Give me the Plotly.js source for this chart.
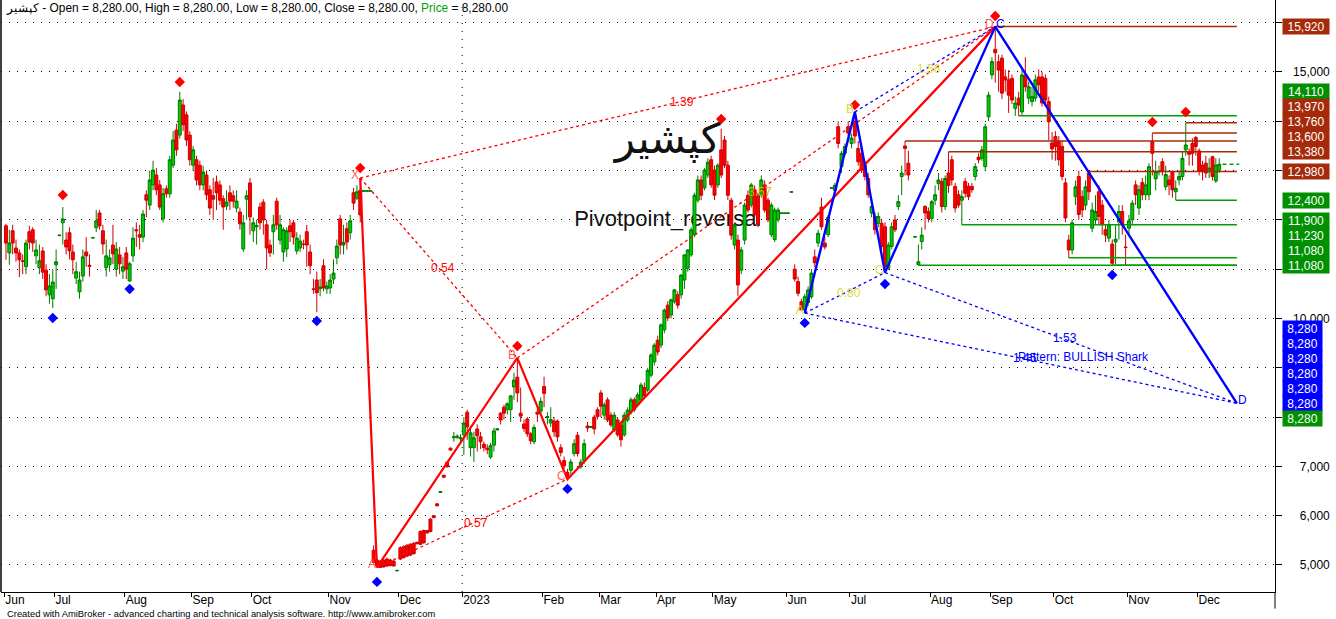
<!DOCTYPE html>
<html><head><meta charset="utf-8">
<script src="https://cdn.plot.ly/plotly-3.0.1.min.js"></script>
<style>html,body{margin:0;padding:0;background:#fff;}#chart{width:1336px;height:619px;}</style>
</head><body><div id="chart"></div>
<script>
// ---------- DATA ----------
const openP = [
11880,11330,11780,11430,11330,11170,11050,11760,11800,11270,
11030,11370,10980,10480,10400,11090,11680,11940,11590,11740,
11350,10820,10540,10860,11350,11080,11630,11840,12140,11780,
11030,11090,11490,11000,11290,10960,11330,10760,11270,11800,
11700,11650,12510,12300,12710,12910,12710,12020,12630,12530,
13110,13820,13720,14330,14130,13720,13110,13220,13110,12710,
12910,12610,12490,12770,12710,12430,12280,12550,12490,12240,
12160,11410,12420,12750,11780,11860,12260,12360,11900,11490,
11760,12380,11590,11350,11410,11880,11940,11370,11430,11510,
11760,11350,10600,10780,10600,11070,10600,10620,10800,11230,
12020,11490,11820,11740,12550,12440,12600,12580,12580,12580,
5300,5100,5080,5100,5120,5100,5080,4880,5350,5370,
5400,5420,5440,5460,5680,5700,5700,5930,6000,6240,
6470,6820,7080,7370,7580,7590,7560,7640,8100,7380,
7380,7760,7600,7450,7370,7190,7430,7740,8080,8200,
8150,8150,8610,8810,8080,7860,7960,7660,7500,8100,
8120,8620,7990,7880,7920,7920,7380,7120,6880,6920,
7260,7630,6990,7120,7820,7790,8000,8150,8490,8040,
8350,8040,7740,7940,7840,7640,7940,8100,8350,8250,
8350,8600,8550,8850,9120,9560,9460,9770,10270,10070,
10340,10480,10480,10780,11020,11290,11700,12400,12810,12650,
12910,13220,13010,12710,13420,13620,13110,12400,11490,11590,
10980,11590,12500,12300,12610,12500,12500,12710,12400,11700,
11600,12000,12130,12130,12130,12560,11000,10750,10340,10170,
10320,10440,11250,11530,12260,11530,11700,12640,12600,13890,
13080,13350,13890,13550,14000,13450,13350,13110,12840,12140,
12070,11930,11930,11860,11020,11460,12000,12270,12880,13500,
13150,null,11650,11090,11560,12270,12170,12030,12400,12740,
12780,12270,12950,13220,12680,12510,12400,12780,12680,12680,
12880,13270,13250,13080,14090,14940,15460,15210,15280,14900,
14840,14870,14260,14470,14190,14940,14470,14400,14470,14900,
14900,14870,14400,13560,13690,13590,13490,12750,11590,11390,
12470,12880,12470,12300,12950,11830,12000,12570,12300,11800,
11630,11510,11550,11960,12170,11450,11830,12000,12710,12240,
12760,12510,12510,13590,12830,12970,13180,12670,12810,12970,
12570,12810,12880,13420,13370,13550,13670,13400,13110,13150,
12980,13280,12790,13010];
const highP = [
11920,11800,11900,11600,11400,11300,11600,11880,11850,11600,
11500,11450,11100,10900,11000,11400,11690,12260,11750,11850,
11500,11150,10950,11400,11650,11300,11640,12200,12200,11900,
11600,11400,11900,11550,11450,11250,11450,11150,11850,11950,
11900,12200,12600,13000,13200,13050,12810,12650,12700,13300,
13800,13950,14600,14450,14200,13800,13500,13300,13200,13100,
13000,12700,12850,12900,12800,12500,12600,12700,12600,12600,
12250,12100,12600,12850,12050,12000,12350,12420,12000,11600,
12100,12450,12100,11850,11850,12000,12000,11750,11700,11600,
11900,11500,10800,10950,10800,11200,10750,10900,11200,11600,
12100,11900,11950,12100,12650,12700,12850,12590,12590,12590,
5400,5150,5100,5120,5150,5130,5100,4890,5380,5400,
5420,5440,5460,5470,5700,5720,5710,5950,6010,6250,
6500,6830,7100,7380,7700,7650,7650,8000,8150,7780,
7700,7850,7700,7500,7450,7480,7780,7770,8100,8250,
8300,8450,8900,9200,8600,7950,8000,7700,7850,8200,
8400,8820,8100,8200,8000,7950,7450,7200,6950,7150,
7550,7700,7150,7550,7900,7810,8050,8200,8550,8300,
8400,8100,8100,8000,7900,8100,8200,8400,8400,8500,
8700,8700,9000,9300,9500,9650,9900,10200,10350,10400,
10600,10550,10900,11300,11400,11850,12550,12900,12900,13050,
13250,13300,13100,13150,13850,13700,13200,12450,11950,11700,
11450,12350,12600,12750,12700,12550,12900,12800,12450,12350,
12250,12250,12140,12140,12140,12570,11100,10850,10400,10500,
10650,11000,11400,11800,12450,11650,12100,12650,12750,14000,
13400,13550,14000,13750,14190,13600,13450,13200,12950,12400,
12150,12150,12000,11950,11550,11950,12100,12500,13100,13600,
13400,null,11660,11500,11850,12300,12250,12400,12700,12950,
12850,12900,13380,13300,12750,12600,12600,12850,12750,12750,
13150,13350,13500,13950,14600,15300,15920,15350,15350,15050,
15040,14950,14500,14600,15050,15300,14800,14700,14950,15050,
15000,14950,14500,13780,13800,13700,13600,12850,11700,12000,
12800,13000,12600,12800,12980,12350,12500,12700,12400,11900,
12000,11600,11900,12300,12300,11700,12100,12400,12800,12700,
12850,12900,13150,13760,13200,13100,13250,13100,12900,13000,
12800,13000,13400,13970,13450,13650,13700,13450,13200,13300,
13250,13300,13250,13250];
const lowP = [
11190,11090,11300,11150,10840,10900,10900,11400,11350,11100,
10900,10800,10450,10300,10210,10600,11680,11500,11300,11200,
10900,10700,10400,10750,11050,10850,11630,11750,11800,11300,
10850,10950,11100,10850,10900,10800,10800,10750,11150,11450,
11400,11550,12050,12200,12600,12500,12200,11950,12450,12450,
13050,13300,13650,13800,13500,13100,13000,12700,12600,12600,
12400,12100,12000,12200,12300,11800,12200,12200,12250,12150,
11800,11350,12000,11700,11550,11500,11800,11700,11000,11250,
11300,11800,11500,11150,11250,11550,11500,11300,11350,11400,
11050,10900,10500,10130,10450,10550,10500,10500,10700,11100,
11300,11300,11400,11600,12200,12400,11950,12580,12580,12580,
5000,4950,4940,4950,4960,4970,4970,4880,5100,5130,
5160,5180,5210,5420,5400,5430,5640,5660,5950,6190,
6460,6770,6980,7320,7500,7550,7500,7230,7540,7200,
7090,7300,7350,7300,7250,7150,7300,7730,7850,7950,
8050,7900,8350,8300,7900,7700,7600,7450,7450,7900,
8050,8200,7850,7800,7600,7500,7200,6950,6740,6850,
7200,7200,6950,7050,7700,7790,7650,7950,8000,7950,
7900,7800,7700,7600,7400,7600,7900,8050,8100,8200,
8300,8400,8500,8800,9050,9250,9400,9700,9950,10000,
10300,10200,10400,10600,10950,11250,11650,12350,12400,12600,
12850,12650,12400,12650,12850,13050,12400,11600,11400,10450,
10900,11500,12150,12250,12050,11850,12450,12150,11950,11650,
11550,11950,12130,12130,12130,12560,10750,10450,10150,10110,
10250,10400,11050,11450,11800,11400,11650,12640,12550,13450,
12950,13300,13700,13450,13550,13100,12950,12800,12450,12050,
11700,11850,11400,10930,10980,11400,11750,12200,12500,12900,
12800,null,11650,11080,11400,11800,11950,11950,12300,12600,
12150,12200,12550,12700,12150,12250,11900,12450,12400,12550,
12800,13150,13200,13000,14000,14850,14780,14600,14450,14600,
14170,14350,14110,14110,14110,14600,14350,14300,14400,14600,
14300,14300,13620,13220,13200,13100,12800,11950,11230,11300,
12300,12000,12050,12200,12400,11750,11900,11900,11700,11550,
11550,11080,11100,11600,11700,11080,11700,11900,12300,12100,
12400,12400,12400,12900,12600,12900,12900,12600,12500,12450,
12400,12700,12800,13300,13100,13100,13300,12900,12800,12850,
12850,12800,12750,12950];
const closeP = [
11530,11530,11530,11330,11190,11160,11530,11550,11530,11390,
11170,10940,10580,10660,10740,11150,11690,12020,11450,11370,
11190,10950,10780,11250,11270,11060,11640,11980,11880,11510,
11270,11230,11310,11410,11110,11050,11000,11110,11630,11780,
11650,12120,12400,12810,13010,12610,12260,12530,12530,13220,
13620,13420,14430,13930,13620,13220,13420,12810,12710,12970,
12510,12240,12420,12550,12400,12260,12360,12380,12380,12380,
11920,11940,12490,12060,11940,11880,11940,12000,11430,11330,
11900,11900,11900,11800,11780,11760,11650,11630,11570,11500,
11490,11070,10590,10520,10640,10620,10660,10780,10920,11470,
11490,11540,11550,11980,12340,12570,12100,12590,12590,12590,
5050,4980,4950,4960,4980,4990,4980,4890,5120,5150,
5180,5200,5230,5430,5420,5450,5650,5680,5960,6200,
6490,6780,6990,7330,7600,7610,7580,7880,7800,7680,
7580,7620,7500,7380,7340,7420,7720,7760,7940,8080,
8270,8430,8750,8490,8020,7770,7660,7520,7790,8060,
8320,8480,8010,7950,7700,7600,7280,7010,6800,7090,
7460,7260,7090,7460,7780,7810,7760,8010,8220,8250,
7940,7840,8040,7640,7540,8040,8140,8350,8150,8450,
8650,8430,8950,9260,9460,9320,9870,10170,10010,10380,
10580,10270,10880,11290,11390,11800,12500,12810,12500,13010,
13170,12710,12500,13110,12910,13110,12500,11690,11900,10680,
11390,12300,12200,12710,12100,11900,12810,12200,12000,12300,
12200,12200,12140,12140,12140,12570,10800,10510,10170,10440,
10580,10920,11130,11730,11860,11450,12050,12650,12700,13550,
13350,13490,13760,13660,13700,13180,13010,12880,12510,12270,
11800,12070,11460,11050,11490,11860,11800,12370,12950,13450,
12910,null,11660,11150,11690,12140,12030,12370,12510,12810,
12270,12840,12700,12810,12240,12300,12470,12540,12470,12610,
13080,13220,13420,13890,14530,15210,15390,15040,14570,14840,
14530,14430,14370,14330,14940,14700,14700,14500,14840,14740,
14370,14430,13990,13440,13490,13220,12880,12040,11390,11940,
12670,12110,12200,12670,12570,12200,12170,12070,11900,11690,
11900,11120,11610,12170,11900,11440,11980,12340,12510,12610,
12510,12710,13080,13350,12980,12990,12980,12920,12710,12610,
12640,12880,13250,13520,13330,13350,13490,12990,12980,12950,
13050,12880,13110,13130];

const monthLabels = ['Jun','Jul','Aug','Sep','Oct','Nov','Dec','2023','Feb','Mar','Apr','May','Jun','Jul','Aug','Sep','Oct','Nov','Dec'];
const monthStartBar = [0,15,36,56,74,97,118,137,161,178,195,212,234,253,277,295,314,336,357];
const priceTicks = [5000,6000,7000,8000,9000,10000,11000,12000,13000,14000,15000,16000];
const priceTicksCovered = [8000,9000,11000,12000,13000,14000,16000];

const pivotHighBar = [17,52,106,153,214,254,296,343,353];
const pivotHighMark = [12506,14797,13053,9443,14047,14331,16136,13986,14189];
const pivotLowBar = [14,37,93,111,168,239,263,331];
const pivotLowMark = [10011,10599,9950,4657,6543,9910,10700,10883];

const xabcdBar = [106,111,153,168,296];
const xabcdPrice = [12850,4950,9200,6740,15920];
const xabcdNames = ['X','A','B','C','D'];
const xabcdRatioText = ['0.54','0.57','3.57','1.39'];

const sharkBar = [239,254,263,296,368.3];
const sharkPrice = [10110,14190,10930,15920,8280];
const sharkRatioText = ['0.80','1.56','1.53','1.45'];
const sharkName = 'Pattern: BULLISH Shark';

const levelPrice = [15920,14110,13970,13760,13600,13380,12980,12400,11900,11230,11080,11080];
const levelStartBar = [296,303,353,343,269,282,324,350,286,318,273,331];
const levelSide = ['r','g','r','r','r','r','r','g','g','g','g','g'];
const projectedD = [8280,8280,8280,8280,8280,8280];
const lastPrice = 8280;
const extLine = {bar:[364,369], price:[13130,13130]};

const symbolName = 'کپشیر';
const systemName = 'Pivotpoint_reversal';

// ---------- GEOMETRY ----------
const Y0 = 4452, Y1 = 16460, XMIN = -1.49, XMAX = 379.7, PLOT_H = 592;
const RED = '#ff0000', BLUE = '#0000ff', BROWN = '#a52a0a', GREEN = '#009000', YEL = '#dcdc3c';
const F = 'Liberation Sans, Arial, sans-serif';
const FS = '\u2007';

const barIdx = closeP.map((_, i) => i);

function segs(bars, prices, pairs){
  const x = [], y = [];
  pairs.forEach(([a,b]) => { x.push(bars[a], bars[b], null); y.push(prices[a], prices[b], null); });
  return {x, y};
}
const ratioPairs = [[0,2],[1,3],[2,4],[0,4]];

const traces = [];
traces.push({type:'candlestick', x:barIdx, open:openP, high:highP, low:lowP, close:closeP,
  increasing:{line:{color:'#007a00', width:1}, fillcolor:'#00cc00'},
  decreasing:{line:{color:'#d00000', width:1}, fillcolor:'#ff0000'},
  whiskerwidth:0, hoverinfo:'skip', showlegend:false});

levelPrice.forEach((p, k) => {
  traces.push({type:'scatter', mode:'lines', x:[levelStartBar[k], sharkBar[4]], y:[p, p],
    line:{color: levelSide[k]==='r' ? BROWN : '#00a000', width:1.5}, hoverinfo:'skip', showlegend:false});
});
traces.push({type:'scatter', mode:'lines', x:extLine.bar, y:extLine.price,
  line:{color:'#00a000', width:1.5, dash:'4px,3px'}, hoverinfo:'skip', showlegend:false});

const rd = segs(xabcdBar, xabcdPrice, ratioPairs);
traces.push({type:'scatter', mode:'lines', x:rd.x, y:rd.y, line:{color:RED, width:1.3, dash:'3px,3px'}, hoverinfo:'skip', showlegend:false});
const bd = segs(sharkBar, sharkPrice, ratioPairs);
traces.push({type:'scatter', mode:'lines', x:bd.x, y:bd.y, line:{color:BLUE, width:1.3, dash:'3px,3px'}, hoverinfo:'skip', showlegend:false});

traces.push({type:'scatter', mode:'lines', x:xabcdBar, y:xabcdPrice, line:{color:RED, width:2.2}, hoverinfo:'skip', showlegend:false});
traces.push({type:'scatter', mode:'lines', x:sharkBar, y:sharkPrice, line:{color:BLUE, width:2.4}, hoverinfo:'skip', showlegend:false});

traces.push({type:'scatter', mode:'markers', x:pivotHighBar, y:pivotHighMark, marker:{symbol:'diamond', size:8, color:RED}, hoverinfo:'skip', showlegend:false});
traces.push({type:'scatter', mode:'markers', x:pivotLowBar, y:pivotLowMark, marker:{symbol:'diamond', size:8, color:BLUE}, hoverinfo:'skip', showlegend:false});
traces.push({type:'scatter', mode:'markers', x:[XMAX + 1.2], y:[projectedD[0]], marker:{symbol:'triangle-left', size:9, color:BLUE}, cliponaxis:false, hoverinfo:'skip', showlegend:false});

// ---------- ANNOTATIONS ----------
function fmt(v){ return v.toLocaleString('en-US'); }
function fmt2(v){ return v.toLocaleString('en-US',{minimumFractionDigits:2}); }
const ann = [];
ann.push({xref:'paper', yref:'paper', x:0, y:1, xanchor:'left', yanchor:'top', xshift:3, yshift:1, showarrow:false,
  text: symbolName + ' - Open = ' + fmt2(lastPrice) + ', High = ' + fmt2(lastPrice) + ', Low = ' + fmt2(lastPrice) +
        ', Close = ' + fmt2(lastPrice) + ', <span style="color:#00a000">Price</span> = ' + fmt2(lastPrice),
  font:{family:F, size:11.9, color:'#000'}});
ann.push({xref:'paper', yref:'paper', x:0, y:0, xanchor:'left', yanchor:'top', xshift:4, yshift:-14, showarrow:false,
  text:'Created with AmiBroker - advanced charting and technical analysis software. http://www.amibroker.com',
  font:{family:F, size:9.4, color:'#000'}});

xabcdNames.forEach((n, k) => {
  ann.push({x:xabcdBar[k], y:xabcdPrice[k], xanchor:'right', yanchor:'middle', xshift:1, yshift:3, showarrow:false,
    text:n, font:{family:F, size:12, color:'#ff5f5f'}});
});
['A','B','C'].forEach((n, k) => {
  ann.push({x:sharkBar[k], y:sharkPrice[k], xanchor:'right', yanchor:'middle', xshift:1, yshift:3, showarrow:false,
    text:n, font:{family:F, size:12, color:YEL}});
});
[['C',3],['D',4]].forEach(([n, k]) => {
  ann.push({x:sharkBar[k], y:sharkPrice[k], xanchor:'left', yanchor:'middle', xshift:-1, yshift:3, showarrow:false,
    text:n, font:{family:F, size:12, color:BLUE}});
});
const redRatioColor = [RED, RED, '#d2b400', RED];
ratioPairs.forEach(([a,b], k) => {
  ann.push({x:(xabcdBar[a]+xabcdBar[b])/2, y:(xabcdPrice[a]+xabcdPrice[b])/2, showarrow:false, xshift:4,
    text:xabcdRatioText[k], font:{family:F, size:12, color:redRatioColor[k]}});
});
const blueRatioColor = [YEL, YEL, BLUE, BLUE];
ratioPairs.forEach(([a,b], k) => {
  ann.push({x:(sharkBar[a]+sharkBar[b])/2, y:(sharkPrice[a]+sharkPrice[b])/2, showarrow:false, xshift:4,
    text:sharkRatioText[k], font:{family:F, size:12, color:blueRatioColor[k]}});
});
ann.push({x:(sharkBar[0]+sharkBar[4])/2, y:(sharkPrice[0]+sharkPrice[4])/2, xanchor:'left', xshift:-5, yshift:1, showarrow:false,
  text:sharkName, font:{family:F, size:12, color:BLUE}});

// right-side value boxes, stacked upward when they would overlap
const pxPer = PLOT_H / (Y1 - Y0);
const boxes = levelPrice.map((v, k) => ({v, c: levelSide[k]==='r' ? BROWN : GREEN}))
  .concat(projectedD.map(v => ({v, c: BLUE})));
boxes.sort((a, b) => b.v - a.v);
const own = boxes.map(b => (Y1 - b.v) * pxPer);
const pos = own.slice();
for (let i = boxes.length - 2; i >= 0; i--) pos[i] = Math.min(own[i], pos[i+1] - 15);
boxes.forEach((b, i) => {
  const t = fmt(b.v);
  ann.push({xref:'paper', x:1, xanchor:'left', xshift:7, y:b.v, yanchor:'middle', yshift: own[i] - pos[i],
    showarrow:false, text:t, bgcolor:b.c, borderpad:1, width:7*t.length + 2, height:13, align:'center',
    font:{family:F, size:12, color:'#fff'}});
});
ann.push({xref:'paper', x:1, xanchor:'left', xshift:7, y:lastPrice, yanchor:'middle', yshift:-15,
  showarrow:false, text:fmt(lastPrice), bgcolor:GREEN, borderpad:1, width:7*fmt(lastPrice).length + 2, height:13,
  align:'center', font:{family:F, size:12, color:'#fff'}});

// ---------- SHAPES ----------
const shapes = [
  {type:'line', xref:'x', yref:'paper', x0:monthStartBar[7]-0.5, x1:monthStartBar[7]-0.5, y0:0, y1:1,
   line:{color:'#000', width:1, dash:'1px,7px'}, layer:'below'},
  {type:'line', xref:'paper', yref:'paper', x0:0, x1:0, y0:0, y1:1, line:{color:'#000', width:1.5}},
  {type:'line', xref:'paper', yref:'paper', x0:1, x1:1, y0:-0.028, y1:0, line:{color:'#000', width:1}},
  {type:'rect', xref:'x', yref:'y', x0:150, x1:246, y0:13480, y1:13930, line:{width:0}, fillcolor:'rgba(0,0,0,0)', layer:'below',
   label:{text:symbolName, textposition:'middle center', font:{family:'DejaVu Sans, sans-serif', size:42, color:'#111'}}},
  {type:'rect', xref:'x', yref:'y', x0:150, x1:246, y0:11900, y1:12220, line:{width:0}, fillcolor:'rgba(0,0,0,0)', layer:'below',
   label:{text:systemName, textposition:'middle center', font:{family:F, size:22, color:'#111'}}}
];

const layout = {
  width:1336, height:619, margin:{l:1, r:61, t:0, b:27},
  paper_bgcolor:'#fff', plot_bgcolor:'#fff', showlegend:false, boxgap:0.12, boxgroupgap:0,
  xaxis:{range:[XMIN, XMAX], showgrid:false, zeroline:false, showline:true, linecolor:'#000', linewidth:1,
    ticks:'outside', ticklen:4, tickcolor:'#000', tickvals:monthStartBar.map(b => b - 0.5), ticktext:monthLabels,
    ticklabelposition:'outside right', ticklabelstandoff:-3, tickfont:{family:F, size:12, color:'#000'},
    rangeslider:{visible:false}, fixedrange:true},
  yaxis:{side:'right', range:[Y0, Y1], tickvals:priceTicks,
    ticktext:priceTicks.map(v => priceTicksCovered.includes(v) ? '' : FS + (v < 10000 ? FS : '') + fmt(v)),
    showgrid:true, gridcolor:'#000', gridwidth:1, griddash:'1px,7px', zeroline:false,
    showline:true, linecolor:'#000', linewidth:1, ticks:'outside', ticklen:6, tickcolor:'#000', ticklabelstandoff:2,
    tickfont:{family:F, size:12, color:'#000'}, fixedrange:true},
  shapes, annotations:ann
};
Plotly.newPlot('chart', traces, layout, {staticPlot:true, displayModeBar:false});
</script></body></html>
